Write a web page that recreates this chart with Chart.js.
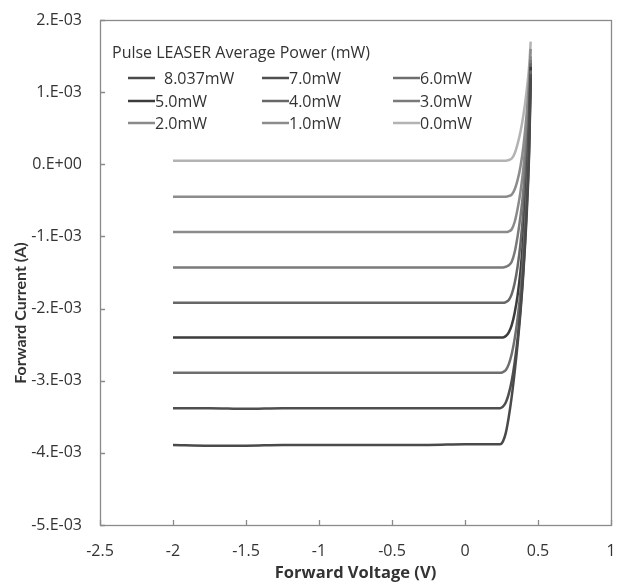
<!DOCTYPE html>
<html>
<head>
<meta charset="utf-8">
<script src="https://cdn.jsdelivr.net/npm/chart.js@4/dist/chart.umd.min.js"></script>
<style>
  html, body { margin: 0; padding: 0; background: #ffffff; }
  #wrap { width: 618px; height: 583px; }
</style>
</head>
<body>
<div id="wrap"><canvas id="c" width="618" height="583"></canvas></div>
<script>
// ---- data (current in mA, shown as A ×1E-03 on the axis) ----
const voltage = [-2, -1.75, -1.5, -1.25, -1, -0.75, -0.5, -0.25, 0, 0.1, 0.2,
                 0.24, 0.26, 0.28, 0.30, 0.32, 0.34, 0.36, 0.38, 0.40, 0.42, 0.44, 0.45];

const seriesLabels = ['8.037mW', '7.0mW', '6.0mW', '5.0mW', '4.0mW', '3.0mW', '2.0mW', '1.0mW', '0.0mW'];
const seriesColors = ['#4a4a4a', '#4f4f4f', '#6e6e6e', '#3c3c3c', '#676767', '#7a7a7a', '#8a8a8a', '#8c8c8c', '#b3b3b3'];

const i_8037 = [-3.89, -3.90, -3.90, -3.89, -3.89, -3.89, -3.89, -3.89, -3.88, -3.88, -3.88,
                -3.88, -3.84, -3.72, -3.50, -3.22, -2.88, -2.50, -2.05, -1.50, -0.80, 0.20, 1.20];
const i_7 = [-3.38, -3.38, -3.39, -3.38, -3.38, -3.38, -3.38, -3.38, -3.38, -3.38, -3.38,
             -3.38, -3.36, -3.30, -3.18, -3.00, -2.75, -2.42, -2.00, -1.45, -0.72, 0.28, 1.25];
const i_6 = [-2.89, -2.89, -2.89, -2.89, -2.89, -2.89, -2.89, -2.89, -2.89, -2.89, -2.89,
             -2.89, -2.88, -2.85, -2.77, -2.63, -2.42, -2.14, -1.76, -1.22, -0.52, 0.42, 1.30];
const i_5 = [-2.40, -2.40, -2.40, -2.40, -2.40, -2.40, -2.40, -2.40, -2.40, -2.40, -2.40,
             -2.40, -2.40, -2.38, -2.33, -2.23, -2.06, -1.82, -1.48, -1.00, -0.35, 0.55, 1.35];
const i_4 = [-1.92, -1.92, -1.92, -1.92, -1.92, -1.92, -1.92, -1.92, -1.92, -1.92, -1.92,
             -1.92, -1.92, -1.91, -1.88, -1.80, -1.65, -1.42, -1.10, -0.65, -0.05, 0.75, 1.40];
const i_3 = [-1.43, -1.43, -1.43, -1.43, -1.43, -1.43, -1.43, -1.43, -1.43, -1.43, -1.43,
             -1.43, -1.43, -1.42, -1.40, -1.35, -1.22, -1.00, -0.72, -0.35, 0.20, 0.90, 1.45];
const i_2 = [-0.94, -0.94, -0.94, -0.94, -0.94, -0.94, -0.94, -0.94, -0.94, -0.94, -0.94,
             -0.94, -0.94, -0.94, -0.93, -0.90, -0.80, -0.62, -0.38, -0.05, 0.45, 1.05, 1.50];
const i_1 = [-0.45, -0.45, -0.45, -0.45, -0.45, -0.45, -0.45, -0.45, -0.45, -0.45, -0.45,
             -0.45, -0.45, -0.45, -0.44, -0.42, -0.35, -0.22, -0.03, 0.25, 0.65, 1.20, 1.60];
const i_0 = [0.05, 0.05, 0.05, 0.05, 0.05, 0.05, 0.05, 0.05, 0.05, 0.05, 0.05,
             0.05, 0.05, 0.05, 0.06, 0.08, 0.15, 0.28, 0.45, 0.68, 0.98, 1.38, 1.70];

const seriesCurrents = [i_8037, i_7, i_6, i_5, i_4, i_3, i_2, i_1, i_0];

const xTicks = [-2.5, -2, -1.5, -1, -0.5, 0, 0.5, 1];
const yTicks = [2, 1, 0, -1, -2, -3, -4, -5];

const legendTitle = 'Pulse LEASER Average Power (mW)';
const xTitle = 'Forward Voltage (V)';
const yTitle = 'Forward Current (A)';

// ---- build chart ----
const FONT = '"Open Sans", Lato, "Liberation Sans", sans-serif';
const TXT = '#333333';

const datasets = seriesLabels.map((lab, k) => ({
  label: lab,
  data: voltage.map((v, j) => ({ x: v, y: seriesCurrents[k][j] })),
  borderColor: seriesColors[k],
  backgroundColor: seriesColors[k],
  borderWidth: 2.5,
  pointRadius: 0,
  fill: false,
  cubicInterpolationMode: 'monotone'
}));

const frameTicks = {
  id: 'frameTicks',
  beforeDatasetsDraw(chart) {
    const { ctx, chartArea: a, scales: { x, y } } = chart;
    ctx.save();
    ctx.strokeStyle = '#8a8a8a';
    ctx.lineWidth = 1.3;
    ctx.beginPath();
    x.ticks.forEach(t => {
      const px = Math.round(x.getPixelForValue(t.value)) + 0.5;
      ctx.moveTo(px, a.bottom); ctx.lineTo(px, a.bottom - 5);
    });
    y.ticks.forEach(t => {
      const py = Math.round(y.getPixelForValue(t.value)) + 0.5;
      ctx.moveTo(a.left, py); ctx.lineTo(a.left + 5, py);
    });
    ctx.stroke();
    ctx.strokeRect(Math.round(a.left) + 0.5, Math.round(a.top) + 0.5,
                   Math.round(a.right - a.left), Math.round(a.bottom - a.top));
    ctx.restore();
  }
};

const gridLegend = {
  id: 'gridLegend',
  afterDatasetsDraw(chart) {
    const { ctx, chartArea: a } = chart;
    ctx.save();
    ctx.font = '16px ' + FONT;
    ctx.fillStyle = TXT;
    ctx.textBaseline = 'middle';
    ctx.textAlign = 'left';
    ctx.fillText(legendTitle, a.left + 12, a.top + 33);
    const colX = [a.left + 28, a.left + 162, a.left + 293];
    const rowY = [a.top + 58, a.top + 81, a.top + 103];
    chart.data.datasets.forEach((ds, k) => {
      const c = k % 3, r = Math.floor(k / 3);
      const lx = colX[c], ly = rowY[r];
      ctx.strokeStyle = ds.borderColor;
      ctx.lineWidth = 2.5;
      ctx.beginPath(); ctx.moveTo(lx, ly); ctx.lineTo(lx + 27, ly); ctx.stroke();
      const gap = (k === 0) ? 9 : 0;
      ctx.fillText(ds.label, lx + 27 + gap, ly + 1);
    });
    // vertical axis title (placed as in the original, below centre)
    ctx.font = 'bold 16px Lato, "Open Sans", sans-serif';
    ctx.translate(21, 313);
    ctx.rotate(-Math.PI / 2);
    ctx.textAlign = 'center';
    ctx.fillText(yTitle, 0, 0);
    ctx.restore();
  }
};

new Chart(document.getElementById('c'), {
  type: 'line',
  data: { datasets },
  options: {
    responsive: false,
    animation: false,
    devicePixelRatio: 1,
    layout: { padding: { top: 20, right: 7, bottom: 0, left: 0 } },
    plugins: { legend: { display: false }, tooltip: { enabled: false } },
    scales: {
      x: {
        type: 'linear',
        min: -2.5, max: 1,
        afterBuildTicks: s => { s.ticks = xTicks.map(v => ({ value: v })); },
        afterFit: s => { s.height = 58; },
        grid: { display: true, drawOnChartArea: false, drawTicks: true, tickLength: 15, tickColor: 'rgba(0,0,0,0)' },
        border: { display: false },
        ticks: {
          padding: 2,
          color: TXT,
          font: { family: FONT, size: 16 },
          maxRotation: 0,
          autoSkip: false,
          callback: v => String(v)
        },
        title: {
          display: true, text: xTitle, color: TXT,
          font: { family: FONT, size: 16.5, weight: 'bold' },
          padding: { top: 0, bottom: 0 }
        }
      },
      y: {
        type: 'linear',
        min: -5, max: 2,
        afterBuildTicks: s => { s.ticks = yTicks.map(v => ({ value: v })); },
        afterFit: s => { s.width = 100; },
        grid: { display: true, drawOnChartArea: false, drawTicks: true, tickLength: 16, tickColor: 'rgba(0,0,0,0)' },
        border: { display: false },
        ticks: {
          padding: 2,
          color: TXT,
          font: { family: FONT, size: 16 },
          autoSkip: false,
          callback: v => (v === 0 ? '0.E+00' : v + '.E-03')
        },
        title: { display: false }
      }
    }
  },
  plugins: [frameTicks, gridLegend]
});
</script>
</body>
</html>
